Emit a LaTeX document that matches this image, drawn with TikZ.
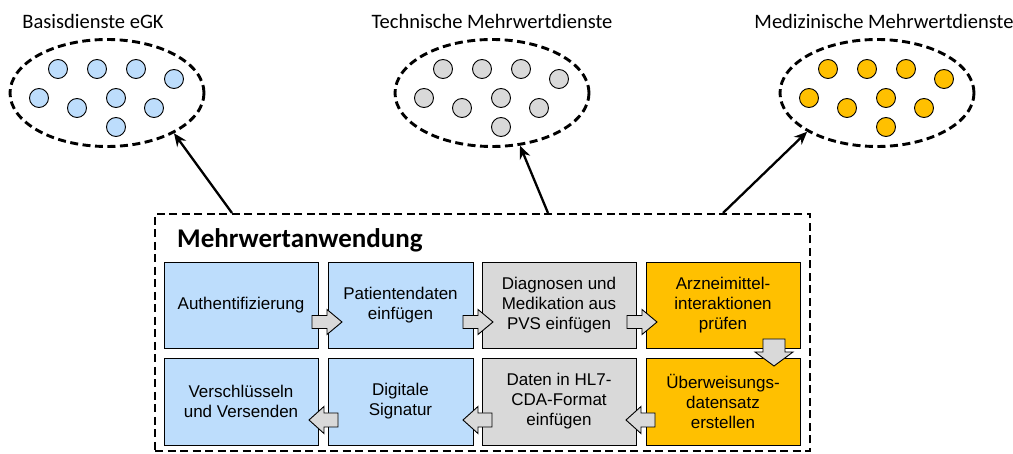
\documentclass[tikz,border=0pt]{standalone}
\usepackage{fontspec}
\setmainfont{Liberation Sans}
\newfontfamily\calfont{Carlito}
\usetikzlibrary{arrows.meta,shapes.geometric}
\definecolor{lblue}{RGB}{189,221,252}
\definecolor{lgray}{RGB}{217,217,217}
\definecolor{gold}{RGB}{255,192,0}
\tikzset{
  dashedline/.style={line width=2.9pt,dash pattern=on 8pt off 4.5pt},
  group/.style={ellipse,draw,dashedline,minimum width=194pt,minimum height=107pt,inner sep=0pt},
  dot/.style={circle,draw,line width=0.9pt,minimum size=19pt,inner sep=0pt},
  stepbox/.style={draw,line width=0.9pt,minimum width=#1,minimum height=86pt,inner sep=0pt,align=center,
    font=\fontsize{17}{20}\selectfont},
  title/.style={font=\calfont\fontsize{20.5}{23}\selectfont,inner sep=0pt},
  conn/.style={line width=2.3pt,-{Stealth[length=13pt,width=11pt]}},
  barrow/.style={draw,line width=0.9pt,fill=lgray}
}
\newcommand{\rarrow}[2]{\draw[barrow] (#1,#2-6.5)--(#1+15,#2-6.5)--(#1+15,#2-12.5)--(#1+30,#2)--(#1+15,#2+12.5)--(#1+15,#2+6.5)--(#1,#2+6.5)--cycle;}
\newcommand{\larrow}[2]{\draw[barrow] (#1,#2-7)--(#1-14,#2-7)--(#1-14,#2-13.5)--(#1-29,#2)--(#1-14,#2+13.5)--(#1-14,#2+7)--(#1,#2+7)--cycle;}
\begin{document}
\begin{tikzpicture}[x=1pt,y=-1pt]
\useasboundingbox (0,0) rectangle (1013,454);
% titles
\node[title] (t1) at (93,21) {Basisdienste eGK};
\node[title] (t2) at (492,21) {Technische Mehrwertdienste};
\node[title] (t3) at (884,21) {Medizinische Mehrwertdienste};
% ellipses
\node[group] (e1) at (107,93) {};
\node[group] (e2) at (492,93) {};
\node[group] (e3) at (877,93) {};
\foreach \e/\cx/\col in {1/107/lblue,2/492/lgray,3/877/gold}{
  \foreach \i/\dx/\dy in {a/-49/-24,b/-10/-24,c/29/-24,d/67/-14,e/-68/5,f/-30/15,g/9/5,h/47/15,i/9/34}{
    \node[dot,fill=\col] (d\e\i) at (\cx+\dx,93+\dy) {};
  }
}
% main box
\node[draw,dashedline,inner sep=0pt,minimum width=655pt,minimum height=237pt] (mw) at (482.5,332.5) {};
\node[font=\calfont\bfseries\fontsize{27}{30}\selectfont,anchor=west,inner sep=0pt] (mt) at (177,240) {Mehrwertanwendung};
% step boxes
\node[stepbox=154pt,fill=lblue] (b1) at (241,305) {Authentifizierung};
\node[stepbox=145pt,fill=lblue] (b2) at (400.5,305) {Patientendaten\\einfügen};
\node[stepbox=154pt,fill=lgray] (b3) at (559,305) {Diagnosen und\\Medikation aus\\PVS einfügen};
\node[stepbox=154pt,fill=gold] (b4) at (723,305) {Arzneimittel-\\interaktionen\\prüfen};
\node[stepbox=154pt,fill=lblue,minimum height=87pt] (c1) at (241,401.5) {Verschlüsseln\\und Versenden};
\node[stepbox=145pt,fill=lblue,minimum height=87pt] (c2) at (400.5,401.5) {Digitale\\Signatur};
\node[stepbox=154pt,fill=lgray,minimum height=87pt] (c3) at (559,401.5) {Daten in HL7-\\CDA-Format\\einfügen};
\node[stepbox=154pt,fill=gold,minimum height=87pt] (c4) at (723,401.5) {Überweisungs-\\datensatz\\erstellen};
% block arrows
\rarrow{312}{322}
\rarrow{463}{322}
\rarrow{627}{322}
\draw[barrow] (763,339)--(785,339)--(785,352)--(793,352)--(774,366)--(755,352)--(763,352)--cycle;
\larrow{655}{420}
\larrow{492}{420}
\larrow{338}{420}
% connectors
\coordinate (s1) at (232,213);
\coordinate (s2) at (548,213);
\coordinate (s3) at (723,213);
\draw[conn] (s1) -- (e1.-31);
\draw[conn] (s2) -- (e2.-62);
\draw[conn] (s3) -- (e3.-151);
\end{tikzpicture}
\end{document}
